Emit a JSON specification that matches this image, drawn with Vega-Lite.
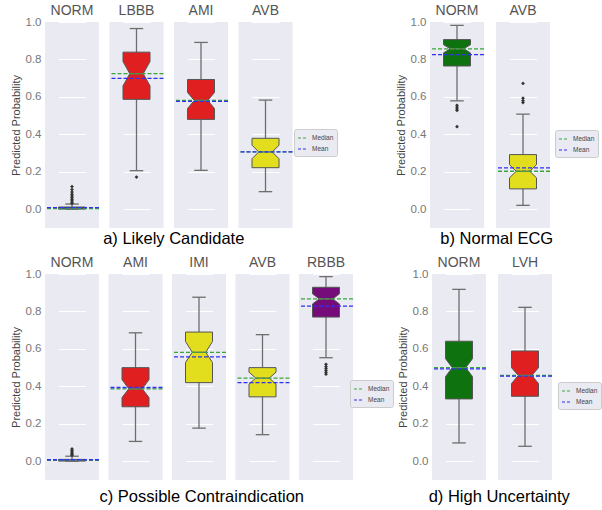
{
  "$schema": "https://vega.github.io/schema/vega-lite/v6.json",
  "padding": {"left": 10, "top": 4, "right": 0, "bottom": 0},
  "datasets": {
    "boxes": [
      {"p": "a", "lab": "NORM", "lo": 0.0, "q1": 0.001, "nl": 0.003, "Median": 0.004, "nh": 0.005, "q3": 0.012, "hi": 0.028, "Mean": 0.009, "out": [0.121, 0.105, 0.092, 0.08, 0.071, 0.062, 0.053, 0.045, 0.036, 0.031]},
      {"p": "a", "lab": "LBBB", "lo": 0.206, "q1": 0.587, "nl": 0.659, "Median": 0.724, "nh": 0.789, "q3": 0.839, "hi": 0.965, "Mean": 0.699, "out": [0.172]},
      {"p": "a", "lab": "AMI", "lo": 0.208, "q1": 0.48, "nl": 0.538, "Median": 0.581, "nh": 0.624, "q3": 0.693, "hi": 0.891, "Mean": 0.576, "out": []},
      {"p": "a", "lab": "AVB", "lo": 0.094, "q1": 0.222, "nl": 0.27, "Median": 0.306, "nh": 0.342, "q3": 0.379, "hi": 0.583, "Mean": 0.307, "out": []},
      {"p": "b", "lab": "NORM", "lo": 0.579, "q1": 0.765, "nl": 0.835, "Median": 0.857, "nh": 0.879, "q3": 0.906, "hi": 0.982, "Mean": 0.826, "out": [0.555, 0.545, 0.535, 0.528, 0.441]},
      {"p": "b", "lab": "AVB", "lo": 0.021, "q1": 0.109, "nl": 0.168, "Median": 0.203, "nh": 0.238, "q3": 0.292, "hi": 0.508, "Mean": 0.221, "out": [0.672, 0.593, 0.58, 0.57]},
      {"p": "c", "lab": "NORM", "lo": 0.0, "q1": 0.001, "nl": 0.003, "Median": 0.005, "nh": 0.006, "q3": 0.01, "hi": 0.027, "Mean": 0.008, "out": [0.066, 0.058, 0.05, 0.043, 0.037, 0.032]},
      {"p": "c", "lab": "AMI", "lo": 0.106, "q1": 0.291, "nl": 0.34, "Median": 0.387, "nh": 0.436, "q3": 0.5, "hi": 0.686, "Mean": 0.394, "out": []},
      {"p": "c", "lab": "IMI", "lo": 0.177, "q1": 0.42, "nl": 0.527, "Median": 0.582, "nh": 0.64, "q3": 0.69, "hi": 0.876, "Mean": 0.557, "out": []},
      {"p": "c", "lab": "AVB", "lo": 0.142, "q1": 0.344, "nl": 0.412, "Median": 0.444, "nh": 0.476, "q3": 0.5, "hi": 0.676, "Mean": 0.42, "out": []},
      {"p": "c", "lab": "RBBB", "lo": 0.553, "q1": 0.77, "nl": 0.84, "Median": 0.867, "nh": 0.894, "q3": 0.929, "hi": 0.986, "Mean": 0.828, "out": [0.518, 0.505, 0.495, 0.485, 0.475, 0.465]},
      {"p": "d", "lab": "NORM", "lo": 0.098, "q1": 0.333, "nl": 0.452, "Median": 0.5, "nh": 0.548, "q3": 0.641, "hi": 0.918, "Mean": 0.493, "out": []},
      {"p": "d", "lab": "LVH", "lo": 0.08, "q1": 0.347, "nl": 0.415, "Median": 0.458, "nh": 0.5, "q3": 0.589, "hi": 0.822, "Mean": 0.455, "out": []}
    ],
    "shape": [
      {"k": "q1", "l": "L", "r": "R"},
      {"k": "nl", "l": "L", "r": "R"},
      {"k": "Median", "l": "Li", "r": "Ri"},
      {"k": "nh", "l": "L", "r": "R"},
      {"k": "q3", "l": "L", "r": "R"}
    ]
  },
  "data": {"name": "boxes"},
  "config": {
    "font": "Liberation Sans",
    "view": {"fill": "#EAEAF2", "stroke": null},
    "axis": {"domain": false, "ticks": false, "grid": true, "gridColor": "white", "gridWidth": 1, "labelColor": "#777", "labelFontSize": 11.5, "labelPadding": 3, "titleFontSize": 11, "titleFontWeight": "normal", "titleColor": "#444", "titlePadding": 4},
    "header": {"title": null, "labelFontSize": 14, "labelColor": "#555", "labelPadding": 4},
    "legend": {"title": null, "orient": "none", "symbolType": "stroke", "symbolDash": [3, 2], "symbolStrokeWidth": 1.2, "symbolSize": 100, "labelFontSize": 6.5, "labelColor": "#444", "fillColor": "#EAEAF2", "strokeColor": "#cccccc", "padding": 3, "cornerRadius": 2, "rowPadding": 1, "labelOffset": 3},
    "title": {"fontSize": 16.5, "fontWeight": "normal", "color": "#000", "orient": "bottom", "offset": 3, "anchor": "middle"}
  },
  "resolve": {"scale": {"stroke": "independent"}, "legend": {"stroke": "independent"}},
  "spacing": 8,
  "vconcat": [
    {
      "hconcat": [
        {
          "transform": [{"filter": "datum.p === 'a'"}, {"fold": ["q1", "nl", "Median", "nh", "q3"], "as": ["k", "v"]}, {"lookup": "k", "from": {"data": {"name": "shape"}, "key": "k", "fields": ["l", "r"]}}],
          "title": {"text": "a) Likely Candidate"},
          "facet": {"column": {"field": "lab", "type": "nominal", "sort": ["NORM", "LBBB", "AMI", "AVB"], "header": {"title": null}}},
          "spacing": 8.5,
          "spec": {
            "width": 54, "height": 206,
            "layer": [
              {"transform": [{"filter": "datum.k === 'q1'"}],
               "mark": {"type": "rule", "color": "#6e6e6e", "strokeWidth": 1.3},
               "encoding": {"x": {"datum": "C", "type": "nominal", "scale": {"type": "point", "domain": ["L", "Li", "C", "Ri", "R"], "range": [13.5, 40.5], "padding": 0}, "axis": null},
                            "y": {"field": "lo", "type": "quantitative", "scale": {"domain": [-0.1, 1.0], "nice": false, "zero": false}, "axis": {"values": [0, 0.2, 0.4, 0.6, 0.8, 1.0], "format": ".1f", "title": "Predicted Probability"}},
                            "y2": {"field": "hi"}}},
              {"mark": {"type": "area", "orient": "horizontal", "stroke": "#555", "strokeWidth": 1, "fillOpacity": 1},
               "encoding": {"y": {"field": "v", "type": "quantitative", "stack": null}, "x": {"field": "l", "type": "nominal"}, "x2": {"field": "r"},
                            "fill": {"field": "lab", "type": "nominal", "scale": {"domain": ["NORM", "LBBB", "AMI", "AVB", "IMI", "RBBB", "LVH"], "range": ["#0e720e", "#e02020", "#e02020", "#e2de1e", "#e2de1e", "#760c7a", "#e02020"]}, "legend": null}}},
              {"transform": [{"filter": "datum.k === 'q1'"}, {"fold": ["lo", "hi", "Median"], "as": ["c", "cv"]}],
               "mark": {"type": "rule", "color": "#6e6e6e", "strokeWidth": 1.3},
               "encoding": {"y": {"field": "cv", "type": "quantitative"}, "x": {"datum": "Li", "type": "nominal"}, "x2": {"datum": "Ri"}}},
              {"transform": [{"filter": "datum.k === 'q1'"}, {"flatten": ["out"]}],
               "mark": {"type": "point", "shape": "diamond", "filled": true, "color": "#333", "size": 14, "opacity": 1},
               "encoding": {"y": {"field": "out", "type": "quantitative"}, "x": {"datum": "C", "type": "nominal"}}},
              {"transform": [{"filter": "datum.k === 'q1'"}, {"fold": ["Median", "Mean"], "as": ["s", "m"]}],
               "mark": {"type": "rule", "strokeDash": [4, 2], "strokeWidth": 1.3},
               "encoding": {"y": {"field": "m", "type": "quantitative"},
                            "stroke": {"field": "s", "type": "nominal", "scale": {"domain": ["Median", "Mean"], "range": ["#3aa53a", "#2f2ff5"]}, "legend": {"legendX": 249, "legendY": 107}}}}
            ]
          }
        },
        {
          "transform": [{"filter": "datum.p === 'b'"}, {"fold": ["q1", "nl", "Median", "nh", "q3"], "as": ["k", "v"]}, {"lookup": "k", "from": {"data": {"name": "shape"}, "key": "k", "fields": ["l", "r"]}}],
          "title": {"text": "b) Normal ECG"},
          "facet": {"column": {"field": "lab", "type": "nominal", "sort": ["NORM", "AVB"], "header": {"title": null}}},
          "spacing": 10,
          "spec": {
            "width": 54, "height": 206,
            "layer": [
              {"transform": [{"filter": "datum.k === 'q1'"}],
               "mark": {"type": "rule", "color": "#6e6e6e", "strokeWidth": 1.3},
               "encoding": {"x": {"datum": "C", "type": "nominal", "scale": {"type": "point", "domain": ["L", "Li", "C", "Ri", "R"], "range": [13.5, 40.5], "padding": 0}, "axis": null},
                            "y": {"field": "lo", "type": "quantitative", "scale": {"domain": [-0.1, 1.0], "nice": false, "zero": false}, "axis": {"values": [0, 0.2, 0.4, 0.6, 0.8, 1.0], "format": ".1f", "title": "Predicted Probability"}},
                            "y2": {"field": "hi"}}},
              {"mark": {"type": "area", "orient": "horizontal", "stroke": "#555", "strokeWidth": 1, "fillOpacity": 1},
               "encoding": {"y": {"field": "v", "type": "quantitative", "stack": null}, "x": {"field": "l", "type": "nominal"}, "x2": {"field": "r"},
                            "fill": {"field": "lab", "type": "nominal", "scale": {"domain": ["NORM", "LBBB", "AMI", "AVB", "IMI", "RBBB", "LVH"], "range": ["#0e720e", "#e02020", "#e02020", "#e2de1e", "#e2de1e", "#760c7a", "#e02020"]}, "legend": null}}},
              {"transform": [{"filter": "datum.k === 'q1'"}, {"fold": ["lo", "hi", "Median"], "as": ["c", "cv"]}],
               "mark": {"type": "rule", "color": "#6e6e6e", "strokeWidth": 1.3},
               "encoding": {"y": {"field": "cv", "type": "quantitative"}, "x": {"datum": "Li", "type": "nominal"}, "x2": {"datum": "Ri"}}},
              {"transform": [{"filter": "datum.k === 'q1'"}, {"flatten": ["out"]}],
               "mark": {"type": "point", "shape": "diamond", "filled": true, "color": "#333", "size": 14, "opacity": 1},
               "encoding": {"y": {"field": "out", "type": "quantitative"}, "x": {"datum": "C", "type": "nominal"}}},
              {"transform": [{"filter": "datum.k === 'q1'"}, {"fold": ["Median", "Mean"], "as": ["s", "m"]}],
               "mark": {"type": "rule", "strokeDash": [4, 2], "strokeWidth": 1.3},
               "encoding": {"y": {"field": "m", "type": "quantitative"},
                            "stroke": {"field": "s", "type": "nominal", "scale": {"domain": ["Median", "Mean"], "range": ["#3aa53a", "#2f2ff5"]}, "legend": {"legendX": 125, "legendY": 108}}}}
            ]
          }
        }
      ],
      "spacing": 57,
      "resolve": {"scale": {"stroke": "independent"}, "legend": {"stroke": "independent"}}
    },
    {
      "hconcat": [
        {
          "transform": [{"filter": "datum.p === 'c'"}, {"fold": ["q1", "nl", "Median", "nh", "q3"], "as": ["k", "v"]}, {"lookup": "k", "from": {"data": {"name": "shape"}, "key": "k", "fields": ["l", "r"]}}],
          "title": {"text": "c) Possible Contraindication", "offset": 9},
          "facet": {"column": {"field": "lab", "type": "nominal", "sort": ["NORM", "AMI", "IMI", "AVB", "RBBB"], "header": {"title": null}}},
          "spacing": 7.5,
          "spec": {
            "width": 54, "height": 206,
            "layer": [
              {"transform": [{"filter": "datum.k === 'q1'"}],
               "mark": {"type": "rule", "color": "#6e6e6e", "strokeWidth": 1.3},
               "encoding": {"x": {"datum": "C", "type": "nominal", "scale": {"type": "point", "domain": ["L", "Li", "C", "Ri", "R"], "range": [13.5, 40.5], "padding": 0}, "axis": null},
                            "y": {"field": "lo", "type": "quantitative", "scale": {"domain": [-0.1, 1.0], "nice": false, "zero": false}, "axis": {"values": [0, 0.2, 0.4, 0.6, 0.8, 1.0], "format": ".1f", "title": "Predicted Probability"}},
                            "y2": {"field": "hi"}}},
              {"mark": {"type": "area", "orient": "horizontal", "stroke": "#555", "strokeWidth": 1, "fillOpacity": 1},
               "encoding": {"y": {"field": "v", "type": "quantitative", "stack": null}, "x": {"field": "l", "type": "nominal"}, "x2": {"field": "r"},
                            "fill": {"field": "lab", "type": "nominal", "scale": {"domain": ["NORM", "LBBB", "AMI", "AVB", "IMI", "RBBB", "LVH"], "range": ["#0e720e", "#e02020", "#e02020", "#e2de1e", "#e2de1e", "#760c7a", "#e02020"]}, "legend": null}}},
              {"transform": [{"filter": "datum.k === 'q1'"}, {"fold": ["lo", "hi", "Median"], "as": ["c", "cv"]}],
               "mark": {"type": "rule", "color": "#6e6e6e", "strokeWidth": 1.3},
               "encoding": {"y": {"field": "cv", "type": "quantitative"}, "x": {"datum": "Li", "type": "nominal"}, "x2": {"datum": "Ri"}}},
              {"transform": [{"filter": "datum.k === 'q1'"}, {"flatten": ["out"]}],
               "mark": {"type": "point", "shape": "diamond", "filled": true, "color": "#333", "size": 14, "opacity": 1},
               "encoding": {"y": {"field": "out", "type": "quantitative"}, "x": {"datum": "C", "type": "nominal"}}},
              {"transform": [{"filter": "datum.k === 'q1'"}, {"fold": ["Median", "Mean"], "as": ["s", "m"]}],
               "mark": {"type": "rule", "strokeDash": [4, 2], "strokeWidth": 1.3},
               "encoding": {"y": {"field": "m", "type": "quantitative"},
                            "stroke": {"field": "s", "type": "nominal", "scale": {"domain": ["Median", "Mean"], "range": ["#3aa53a", "#2f2ff5"]}, "legend": {"legendX": 305, "legendY": 106}}}}
            ]
          }
        },
        {
          "transform": [{"filter": "datum.p === 'd'"}, {"fold": ["q1", "nl", "Median", "nh", "q3"], "as": ["k", "v"]}, {"lookup": "k", "from": {"data": {"name": "shape"}, "key": "k", "fields": ["l", "r"]}}],
          "title": {"text": "d) High Uncertainty", "offset": 9},
          "facet": {"column": {"field": "lab", "type": "nominal", "sort": ["NORM", "LVH"], "header": {"title": null}}},
          "spacing": 10,
          "spec": {
            "width": 54, "height": 206,
            "layer": [
              {"transform": [{"filter": "datum.k === 'q1'"}],
               "mark": {"type": "rule", "color": "#6e6e6e", "strokeWidth": 1.3},
               "encoding": {"x": {"datum": "C", "type": "nominal", "scale": {"type": "point", "domain": ["L", "Li", "C", "Ri", "R"], "range": [13.5, 40.5], "padding": 0}, "axis": null},
                            "y": {"field": "lo", "type": "quantitative", "scale": {"domain": [-0.1, 1.0], "nice": false, "zero": false}, "axis": {"values": [0, 0.2, 0.4, 0.6, 0.8, 1.0], "format": ".1f", "title": "Predicted Probability"}},
                            "y2": {"field": "hi"}}},
              {"mark": {"type": "area", "orient": "horizontal", "stroke": "#555", "strokeWidth": 1, "fillOpacity": 1},
               "encoding": {"y": {"field": "v", "type": "quantitative", "stack": null}, "x": {"field": "l", "type": "nominal"}, "x2": {"field": "r"},
                            "fill": {"field": "lab", "type": "nominal", "scale": {"domain": ["NORM", "LBBB", "AMI", "AVB", "IMI", "RBBB", "LVH"], "range": ["#0e720e", "#e02020", "#e02020", "#e2de1e", "#e2de1e", "#760c7a", "#e02020"]}, "legend": null}}},
              {"transform": [{"filter": "datum.k === 'q1'"}, {"fold": ["lo", "hi", "Median"], "as": ["c", "cv"]}],
               "mark": {"type": "rule", "color": "#6e6e6e", "strokeWidth": 1.3},
               "encoding": {"y": {"field": "cv", "type": "quantitative"}, "x": {"datum": "Li", "type": "nominal"}, "x2": {"datum": "Ri"}}},
              {"transform": [{"filter": "datum.k === 'q1'"}, {"flatten": ["out"]}],
               "mark": {"type": "point", "shape": "diamond", "filled": true, "color": "#333", "size": 14, "opacity": 1},
               "encoding": {"y": {"field": "out", "type": "quantitative"}, "x": {"datum": "C", "type": "nominal"}}},
              {"transform": [{"filter": "datum.k === 'q1'"}, {"fold": ["Median", "Mean"], "as": ["s", "m"]}],
               "mark": {"type": "rule", "strokeDash": [4, 2], "strokeWidth": 1.3},
               "encoding": {"y": {"field": "m", "type": "quantitative"},
                            "stroke": {"field": "s", "type": "nominal", "scale": {"domain": ["Median", "Mean"], "range": ["#3aa53a", "#2f2ff5"]}, "legend": {"legendX": 126, "legendY": 108}}}}
            ]
          }
        }
      ],
      "spacing": 3,
      "resolve": {"scale": {"stroke": "independent"}, "legend": {"stroke": "independent"}}
    }
  ]
}
